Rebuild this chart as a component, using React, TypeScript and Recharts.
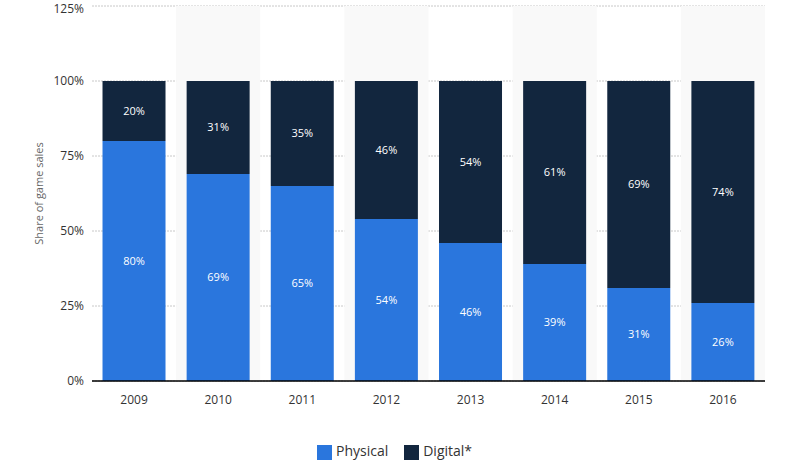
import React from 'react';
import {
  BarChart,
  Bar,
  XAxis,
  YAxis,
  CartesianGrid,
  Legend,
  LabelList,
  ReferenceArea,
} from 'recharts';

const years = ['2009', '2010', '2011', '2012', '2013', '2014', '2015', '2016'];
const physical = [80, 69, 65, 54, 46, 39, 31, 26];
const digital = [20, 31, 35, 46, 54, 61, 69, 74];
const yTicks = [0, 25, 50, 75, 100, 125];
const shadedYears = ['2010', '2012', '2014', '2016'];
const legendOrder = ['Physical', 'Digital*'];

const data = years.map((year, i) => ({
  year,
  Physical: physical[i],
  'Digital*': digital[i],
}));

const font = '"Open Sans", sans-serif';

export default function App() {
  return (
    <div style={{ position: 'absolute', left: 0, top: 0, fontFamily: font }}>
      <BarChart
        width={801}
        height={462}
        data={data}
        margin={{ top: 6, right: 36, bottom: 32, left: 40 }}
        barCategoryGap="12.5%"
      >
        {shadedYears.map((y) => (
          <ReferenceArea
            key={y}
            x1={y}
            x2={y}
            y1={0}
            y2={125}
            fill="#f9f9f9"
            fillOpacity={1}
            stroke="none"
          />
        ))}
        <CartesianGrid
          vertical={false}
          stroke="#c8c8c8"
          strokeDasharray="2 1"
        />
        <XAxis
          dataKey="year"
          tickLine={false}
          axisLine={{ stroke: '#000', strokeWidth: 1.5 }}
          tick={{ fill: '#333', fontSize: 12, fontFamily: font }}
          tickMargin={8}
        />
        <YAxis
          domain={[0, 125]}
          ticks={yTicks}
          tickFormatter={(v) => `${v}%`}
          axisLine={false}
          tickLine={false}
          width={52}
          tick={{ fill: '#333', fontSize: 12, fontFamily: font }}
          label={{
            value: 'Share of game sales',
            angle: -90,
            position: 'insideLeft',
            dx: -6,
            style: { fill: '#666', fontSize: 11, fontFamily: font, textAnchor: 'middle' },
          }}
        />
        <Legend
          verticalAlign="bottom"
          iconType="square"
          iconSize={15}
          itemSorter={(item: any) => legendOrder.indexOf(item.value)}
          wrapperStyle={{ fontSize: 14, color: '#333', fontFamily: font, bottom: 2 }}
          formatter={(value) => <span style={{ color: '#333', marginRight: 6 }}>{value}</span>}
        />
        <Bar dataKey="Physical" stackId="a" fill="#2a76dd" isAnimationActive={false}>
          <LabelList
            dataKey="Physical"
            position="center"
            formatter={(v: number) => `${v}%`}
            style={{ fill: '#fff', fontSize: 11, fontFamily: font }}
          />
        </Bar>
        <Bar dataKey="Digital*" stackId="a" fill="#12263e" isAnimationActive={false}>
          <LabelList
            dataKey="Digital*"
            position="center"
            formatter={(v: number) => `${v}%`}
            style={{ fill: '#fff', fontSize: 11, fontFamily: font }}
          />
        </Bar>
      </BarChart>
    </div>
  );
}
